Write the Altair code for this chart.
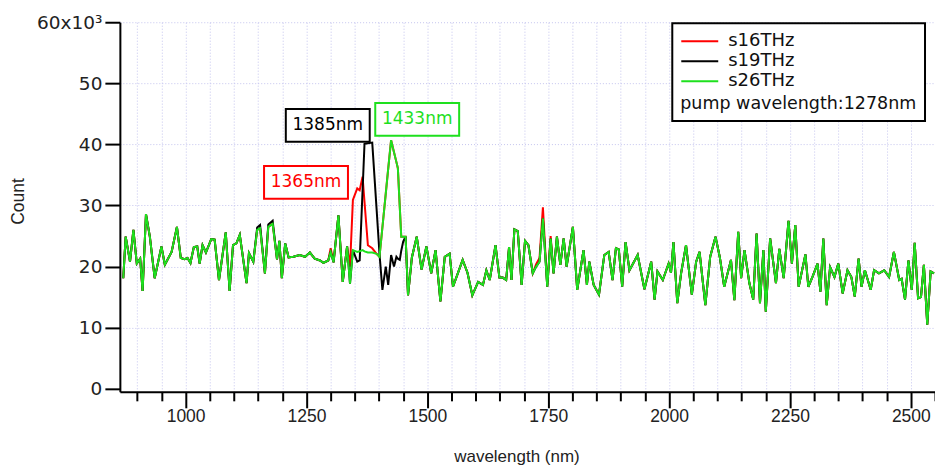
import altair as alt
import pandas as pd

# ---------------- data ----------------
wavelength = [871, 876, 885, 892, 899, 906, 911, 918, 926, 936,
              950, 957, 971, 982, 990, 998, 1004, 1010, 1017, 1024,
              1029, 1035, 1042, 1053, 1060, 1069, 1083, 1091, 1098, 1105,
              1112, 1126, 1131, 1140, 1148, 1154, 1164, 1171, 1180, 1189,
              1194, 1199, 1206, 1213, 1223, 1236, 1247, 1257, 1267, 1278,
              1285, 1295, 1300, 1306, 1316, 1325, 1334, 1340, 1346, 1355,
              1360, 1366, 1370, 1377, 1386, 1395, 1401, 1407, 1414, 1419,
              1425, 1431, 1436, 1439, 1443, 1446, 1450, 1455, 1460, 1468,
              1478, 1488, 1498, 1508, 1517, 1527, 1536, 1546, 1553, 1563,
              1573, 1583, 1593, 1605, 1615, 1622, 1629, 1641, 1649, 1656,
              1663, 1669, 1674, 1680, 1687, 1695, 1702, 1709, 1718, 1725,
              1732, 1739, 1748, 1755, 1761, 1768, 1775, 1782, 1788, 1801,
              1810, 1823, 1830, 1835, 1844, 1855, 1866, 1875, 1883, 1890,
              1896, 1903, 1910, 1918, 1935, 1949, 1963, 1970, 1976, 1987,
              1999, 2004, 2009, 2017, 2025, 2035, 2047, 2056, 2063, 2075,
              2085, 2096, 2105, 2114, 2128, 2135, 2143, 2149, 2156, 2166,
              2174, 2181, 2188, 2195, 2200, 2209, 2221, 2228, 2237, 2247,
              2254, 2261, 2268, 2282, 2288, 2297, 2307, 2313, 2319, 2326,
              2333, 2342, 2350, 2359, 2369, 2377, 2384, 2392, 2398, 2405,
              2417, 2424, 2434, 2445, 2455, 2465, 2476, 2481, 2488, 2495,
              2502, 2508, 2515, 2521, 2527, 2534, 2541, 2548]

# counts in units of 10^3
s16THz = [18.1, 24.9, 20.8, 26.0, 20.5, 21.3, 16.0, 28.6, 24.9, 18.1,
          23.3, 20.3, 22.4, 26.5, 21.4, 21.2, 21.4, 20.6, 23.2, 23.3,
          20.5, 23.5, 22.3, 24.5, 24.4, 17.8, 25.6, 16.0, 23.5, 23.8,
          25.2, 17.3, 22.2, 20.8, 26.0, 26.3, 18.9, 26.5, 27.0, 21.2,
          24.2, 18.1, 23.8, 21.5, 21.6, 21.9, 21.6, 22.3, 21.3, 21.0,
          20.6, 21.0, 23.0, 20.7, 28.4, 17.5, 23.3, 20.0, 30.9, 32.8,
          32.5, 34.7, 30.6, 23.5, 23.0, 22.1, 21.6, 26.4, 32.0, 36.0,
          40.7, 38.7, 37.1, 36.1, 29.7, 24.9, 24.9, 24.9, 15.3, 21.5,
          24.9, 19.5, 23.3, 18.9, 22.7, 14.3, 21.6, 22.1, 16.7, 18.9,
          21.1, 19.0, 15.3, 17.5, 17.0, 19.4, 17.8, 23.5, 18.2, 18.2,
          17.8, 23.2, 17.8, 26.1, 25.8, 17.0, 24.2, 23.5, 18.9, 20.4,
          21.4, 29.7, 16.7, 25.0, 18.9, 24.9, 20.3, 24.6, 20.0, 26.5,
          16.2, 22.7, 17.0, 20.8, 17.0, 15.4, 21.9, 22.4, 17.8, 23.0,
          22.8, 16.7, 24.0, 19.4, 21.9, 16.3, 20.8, 14.6, 19.2, 17.8,
          20.5, 19.0, 24.0, 14.0, 19.0, 23.5, 15.4, 20.8, 22.4, 13.7,
          21.6, 24.9, 21.5, 16.7, 21.1, 14.5, 25.7, 18.1, 22.7, 17.3,
          14.6, 25.4, 14.0, 22.7, 12.6, 24.6, 17.3, 22.9, 18.1, 27.5,
          20.5, 26.8, 16.7, 22.0, 16.7, 18.4, 20.5, 15.9, 24.6, 13.7,
          19.9, 18.3, 20.5, 15.6, 19.4, 18.3, 15.1, 21.3, 16.7, 19.4,
          16.2, 19.4, 18.9, 19.4, 18.3, 22.4, 17.8, 18.0, 14.6, 21.0,
          16.2, 23.9, 14.8, 15.0, 20.3, 10.5, 19.2, 18.9]

s19THz = [18.1, 24.9, 20.8, 26.0, 20.5, 21.3, 16.0, 28.6, 24.9, 18.1,
          23.3, 20.3, 22.4, 26.5, 21.4, 21.2, 21.4, 20.6, 23.2, 23.3,
          20.5, 23.5, 22.3, 24.5, 24.4, 17.8, 25.6, 16.0, 23.5, 23.8,
          25.2, 17.3, 22.2, 20.8, 26.4, 26.8, 18.9, 26.9, 27.5, 21.2,
          24.2, 18.1, 23.8, 21.5, 21.6, 21.9, 21.6, 22.3, 21.3, 21.0,
          20.6, 21.0, 22.4, 20.7, 28.4, 17.5, 23.3, 17.2, 22.7, 20.8,
          21.0, 32.5, 40.1, 40.2, 40.3, 29.4, 22.1, 16.2, 20.0, 17.0,
          21.9, 20.0, 21.6, 21.3, 21.1, 22.6, 24.1, 24.9, 15.3, 21.5,
          24.9, 19.5, 23.3, 18.9, 22.7, 14.3, 21.6, 22.1, 16.7, 18.9,
          21.1, 19.0, 15.3, 17.5, 17.0, 19.4, 17.8, 23.5, 18.2, 18.2,
          17.8, 23.2, 17.8, 26.1, 25.8, 17.0, 24.2, 23.5, 18.9, 20.0,
          20.8, 27.9, 16.7, 24.6, 18.9, 24.9, 20.3, 24.6, 20.0, 26.5,
          16.2, 22.7, 17.0, 20.8, 17.0, 15.4, 21.9, 22.4, 17.8, 23.0,
          22.8, 16.7, 24.0, 19.4, 21.9, 16.3, 20.8, 14.6, 19.2, 17.8,
          20.5, 19.0, 24.0, 14.0, 19.0, 23.5, 15.4, 20.8, 22.4, 13.7,
          21.6, 24.9, 21.5, 16.7, 21.1, 14.5, 25.7, 18.1, 22.7, 17.3,
          14.6, 25.4, 14.0, 22.7, 12.6, 24.6, 17.3, 22.9, 18.1, 27.5,
          20.5, 26.8, 16.7, 22.0, 16.7, 18.4, 20.5, 15.9, 24.6, 13.7,
          19.9, 18.3, 20.5, 15.6, 19.4, 18.3, 15.1, 21.3, 16.7, 19.4,
          16.2, 19.4, 18.9, 19.4, 18.3, 22.4, 17.8, 18.0, 14.6, 21.0,
          16.2, 23.9, 14.8, 15.0, 20.3, 10.5, 19.2, 18.9]

s26THz = [18.1, 24.9, 20.8, 26.0, 20.5, 21.3, 16.0, 28.6, 24.9, 18.1,
          23.3, 20.3, 22.4, 26.5, 21.4, 21.2, 21.4, 20.6, 23.2, 23.3,
          20.5, 23.5, 22.3, 24.5, 24.4, 17.8, 25.6, 16.0, 23.5, 23.8,
          25.2, 17.3, 22.2, 20.8, 26.0, 26.3, 18.9, 26.5, 27.0, 21.2,
          24.2, 18.1, 23.8, 21.5, 21.6, 21.9, 21.6, 22.3, 21.3, 21.0,
          20.6, 21.0, 22.4, 20.7, 28.4, 17.5, 23.3, 17.2, 22.7, 22.4,
          22.5, 22.7, 22.5, 22.3, 22.3, 22.1, 21.6, 26.4, 32.0, 36.0,
          40.7, 38.7, 37.1, 36.1, 29.7, 24.9, 24.9, 24.9, 15.3, 21.5,
          24.9, 19.5, 23.3, 18.9, 22.7, 14.3, 21.6, 22.1, 16.7, 18.9,
          21.1, 19.0, 15.3, 17.5, 17.0, 19.4, 17.8, 23.5, 18.2, 18.2,
          17.8, 23.2, 17.8, 26.1, 25.8, 17.0, 24.2, 23.5, 18.9, 20.0,
          20.8, 27.9, 16.7, 24.6, 18.9, 24.9, 20.3, 24.6, 20.0, 26.5,
          16.2, 22.7, 17.0, 20.8, 17.0, 15.4, 21.9, 22.4, 17.8, 23.0,
          22.8, 16.7, 24.0, 19.4, 21.9, 16.3, 20.8, 14.6, 19.2, 17.8,
          20.5, 19.0, 24.0, 14.0, 19.0, 23.5, 15.4, 20.8, 22.4, 13.7,
          21.6, 24.9, 21.5, 16.7, 21.1, 14.5, 25.7, 18.1, 22.7, 17.3,
          14.6, 25.4, 14.0, 22.7, 12.6, 24.6, 17.3, 22.9, 18.1, 27.5,
          20.5, 26.8, 16.7, 22.0, 16.7, 18.4, 20.5, 15.9, 24.6, 13.7,
          19.9, 18.3, 20.5, 15.6, 19.4, 18.3, 15.1, 21.3, 16.7, 19.4,
          16.2, 19.4, 18.9, 19.4, 18.3, 22.4, 17.8, 18.0, 14.6, 21.0,
          16.2, 23.9, 14.8, 15.0, 20.3, 10.5, 19.2, 18.9]

series_names = ["s16THz", "s19THz", "s26THz"]
series_colors = ["#ff0000", "#000000", "#1ee01e"]

# peak annotations (label box centres in data units)
ann_label = ["1365nm", "1385nm", "1433nm"]
ann_wl = [1249, 1294, 1479]
ann_count = [33.8, 43.1, 44.1]
ann_color = ["#ff0000", "#000000", "#1ee01e"]

x_tick_values = [900, 950, 1000, 1050, 1100, 1150, 1200, 1250, 1300, 1350,
                 1400, 1450, 1500, 1550, 1600, 1650, 1700, 1750, 1800, 1850,
                 1900, 1950, 2000, 2050, 2100, 2150, 2200, 2250, 2300, 2350,
                 2400, 2450, 2500, 2550]
y_tick_values = [0, 10, 20, 30, 40, 50, 60]

# ---------------- tables ----------------
rows = []
for name, vals in zip(series_names, [s16THz, s19THz, s26THz]):
    for w, c in zip(wavelength, vals):
        rows.append({"wavelength": w, "count": c, "series": name})
df = pd.DataFrame(rows)

ann_df = pd.DataFrame({"label": ann_label, "wavelength": ann_wl,
                       "count": ann_count, "color": ann_color})

GRID = "#c4c4ee"

x_enc = alt.X(
    "wavelength:Q",
    scale=alt.Scale(domain=[864, 2550], nice=False, zero=False),
    axis=alt.Axis(
        values=x_tick_values, format="d",
        labelExpr="datum.value % 250 === 0 ? datum.label : ''",
        labelOverlap=False, labelFont="Liberation Sans", labelFontSize=17.5,
        labelColor="#222222", labelPadding=0,
        tickSize={"condition": {"test": "datum.value % 250 === 0", "value": 16}, "value": 9},
        tickWidth=2, tickColor="black", domainColor="black", domainWidth=2,
        grid=True, gridColor=GRID, gridDash=[1, 2], gridWidth=1,
        title="wavelength (nm)", titleFont="Liberation Sans", titleFontSize=17,
        titleFontWeight="normal", titleColor="#222222",
        titleX=397, titleY=57, titleBaseline="top",
    ),
)
y_enc = alt.Y(
    "count:Q",
    scale=alt.Scale(domain=[-0.5, 60], nice=False, zero=False),
    axis=alt.Axis(
        values=y_tick_values,
        labelExpr="datum.value === 60 ? '60x10\u00b3' : datum.label",
        labelFont="DejaVu Sans", labelFontSize=18.5, labelColor="#222222",
        labelPadding=3, tickSize=15, tickWidth=2, tickColor="black",
        domainColor="black", domainWidth=2,
        grid=True, gridColor=GRID, gridDash=[1, 2], gridWidth=1,
        gridOpacity={"condition": {"test": "datum.value === 0", "value": 0}, "value": 1},
        title="Count", titleFont="Liberation Sans", titleFontSize=17.5,
        titleFontWeight="normal", titleColor="#222222",
        titleX=-101, titleY=179, titleAngle=270,
        titleBaseline="middle", titleAlign="center",
    ),
)

lines = alt.Chart(df).mark_line(strokeWidth=2, clip=True).encode(
    x=x_enc,
    y=y_enc,
    color=alt.Color(
        "series:N",
        scale=alt.Scale(domain=series_names, range=series_colors),
        legend=alt.Legend(
            title="pump wavelength:1278nm", titleOrient="bottom",
            orient="none", legendX=553, legendY=1,
            symbolType="stroke", symbolSize=1369, symbolStrokeWidth=2,
            clipHeight=20, rowPadding=0,
            labelFont="DejaVu Sans", labelFontSize=18, labelColor="#111111",
            labelOffset=9, labelLimit=300,
            titleFont="DejaVu Sans", titleFontSize=17.5, titleFontWeight="normal",
            titleColor="#111111", titlePadding=4, titleLimit=400, titleAnchor="start",
            padding=8, strokeColor="black", fillColor="white",
        ),
    ),
)

boxes = alt.Chart(ann_df).mark_point(
    shape="M-1,-0.39H1V0.39H-1Z", size=7056, filled=True, fill="white",
    strokeWidth=2, opacity=1,
).encode(
    x=x_enc, y=y_enc,
    stroke=alt.Color("color:N", scale=None),
)

texts = alt.Chart(ann_df).mark_text(
    font="DejaVu Sans", fontSize=17, align="center", baseline="middle",
).encode(
    x=x_enc, y=y_enc,
    text="label:N",
    color=alt.Color("color:N", scale=None),
)

chart = alt.layer(lines, boxes, texts).properties(
    width=816, height=370,
    padding={"left": 120, "top": 22, "right": 0, "bottom": 76},
    autosize=alt.AutoSizeParams(type="none"),
    background="white",
).configure_view(stroke=None).configure_legend(strokeWidth=2)

chart.save("out.html", embed_options={"renderer": "svg", "actions": False})
